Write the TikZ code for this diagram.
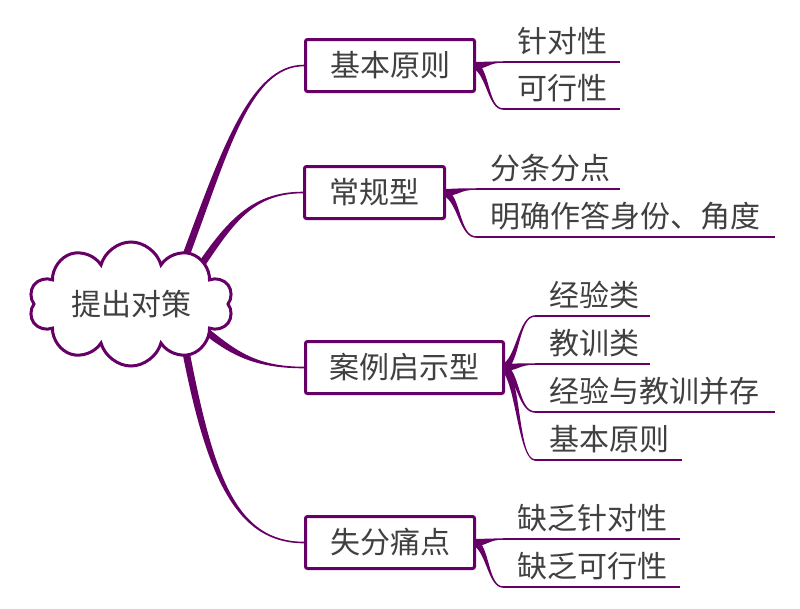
\documentclass[tikz,border=0pt]{standalone}
\usepackage{fontspec}
\setmainfont{Noto Sans CJK SC}
\usetikzlibrary{calc,shapes.symbols,backgrounds}
\definecolor{mmpurple}{RGB}{102,0,102}
\definecolor{mmtext}{RGB}{64,64,64}
% tapered connector: #1 start, #2 control 1, #3 control 2, #4 end, #5 half width at start, #6 half width at end
\newcommand\taper[6]{%
  \fill[conn] ($#1!#5!90:#2$) .. controls ($#2!#5!-90:#1$) and ($#3!#6!90:#4$) .. ($#4!#6!-90:#3$)
    -- ($#4!#6!90:#3$) .. controls ($#3!#6!-90:#4$) and ($#2!#5!90:#1$) .. ($#1!#5!-90:#2$) -- cycle;}
\newcommand\leafconn[2]{%
  \path let \p1=(#1.east), \p2=(#2.south west) in
    (\x1-1pt,\y1) coordinate (lcA)
    ({\x1+0.45*(\x2-\x1)},{\y1+0.15*(\y2-\y1)}) coordinate (lcB)
    ({\x1+0.45*(\x2-\x1)},\y2) coordinate (lcC)
    (\p2) coordinate (lcD);
  \taper{(lcA)}{(lcB)}{(lcC)}{(lcD)}{3.5pt}{0.75pt}}
\begin{document}
\begin{tikzpicture}[x=1pt,y=-1pt,
  every node/.style={font=\fontsize{30}{34}\selectfont, text=mmtext},
  topic/.style={draw=mmpurple, line width=3pt, fill=white, rounded corners=2pt,
    minimum height=52pt, inner sep=0pt},
  centre/.style={cloud, cloud puffs=10, cloud puff arc=150, cloud ignores aspect,
    draw=mmpurple, line width=3pt, fill=white, minimum width=204pt, minimum height=124pt, inner sep=0pt},
  leaf/.style={anchor=south west, inner xsep=0pt, inner ysep=9pt, text depth=0pt,
    align=left, execute at begin node=\hspace*{14pt}},
  leafline/.style={draw=mmpurple, line width=1.5pt},
  conn/.style={fill=mmpurple}]
\useasboundingbox (0,0) rectangle (800,608);

% central topic
\node[centre] (cloud) at (131,304) {提出对策};

% main topics
\node[topic, minimum width=169pt] (t1) at (390,65.5) {基本原则};
\node[topic, minimum width=140pt] (t2) at (374.5,192.5) {常规型};
\node[topic, minimum width=198pt] (t3) at (404.5,367.5) {案例启示型};
\node[topic, minimum width=169pt] (t4) at (390,542.5) {失分痛点};

% leaves
\node[leaf, text width=117pt] (a1) at (503,62) {针对性};
\node[leaf, text width=117pt] (a2) at (503,109) {可行性};
\node[leaf, text width=144pt] (b1) at (476,189) {分条分点};
\node[leaf, text width=299pt] (b2) at (476,237) {明确作答身份、角度};
\node[leaf, text width=115pt] (c1) at (535,316) {经验类};
\node[leaf, text width=115pt] (c2) at (535,364) {教训类};
\node[leaf, text width=240pt] (c3) at (535,412) {经验与教训并存};
\node[leaf, text width=147pt] (c4) at (535,460) {基本原则};
\node[leaf, text width=177pt] (d1) at (503,539) {缺乏针对性};
\node[leaf, text width=177pt] (d2) at (503,587) {缺乏可行性};

\foreach \n in {a1,a2,b1,b2,c1,c2,c3,c4,d1,d2}
  \draw[leafline] (\n.south west) -- (\n.south east);

% connector points
\coordinate (s1) at ($(cloud.center)+(54,-46)$);
\coordinate (s2) at ($(cloud.center)+(66,-33)$);
\coordinate (s3) at ($(cloud.center)+(71,24)$);
\coordinate (s4) at ($(cloud.center)+(54,43)$);
\coordinate (k1a) at ($(s1)+(40,-107)$);
\coordinate (k1b) at ($(t1.west)+(-54,0)$);
\coordinate (k2a) at ($(s2)+(32,-47)$);
\coordinate (k2b) at ($(t2.west)+(-52,0)$);
\coordinate (k3a) at ($(s3)+(30,24)$);
\coordinate (k3b) at ($(t3.west)+(-50,0)$);
\coordinate (k4a) at ($(s4)+(25,130)$);
\coordinate (k4b) at ($(t4.west)+(-68,0)$);

\begin{pgfonlayer}{background}
  \fill[white] (0,0) rectangle (800,608);
  \taper{(s1)}{(k1a)}{(k1b)}{(t1.west)}{3.6pt}{0.8pt}
  \taper{(s2)}{(k2a)}{(k2b)}{(t2.west)}{3.6pt}{0.8pt}
  \taper{(s3)}{(k3a)}{(k3b)}{(t3.west)}{3.6pt}{0.8pt}
  \taper{(s4)}{(k4a)}{(k4b)}{(t4.west)}{3.6pt}{0.8pt}
  \leafconn{t1}{a1}
  \leafconn{t1}{a2}
  \leafconn{t2}{b1}
  \leafconn{t2}{b2}
  \leafconn{t3}{c1}
  \leafconn{t3}{c2}
  \leafconn{t3}{c3}
  \leafconn{t3}{c4}
  \leafconn{t4}{d1}
  \leafconn{t4}{d2}
\end{pgfonlayer}
\end{tikzpicture}
\end{document}
